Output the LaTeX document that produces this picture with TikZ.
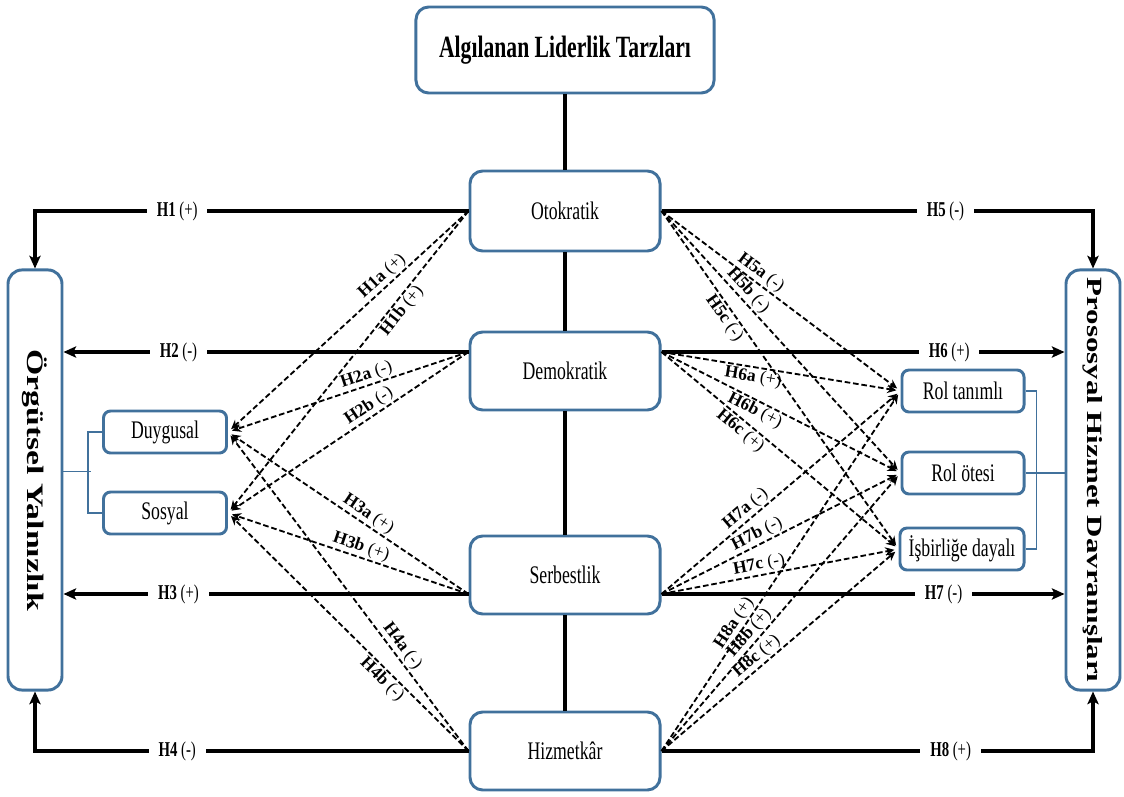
\documentclass[tikz,border=0pt]{standalone}
\usepackage{fontspec}
\setmainfont{Liberation Serif}
\usepackage{tikz}
\usetikzlibrary{arrows.meta}

\definecolor{boxblue}{HTML}{41719C}
\newcommand{\nar}[1]{\scalebox{0.7}[1]{#1}}
\newcommand{\vnar}[1]{\rotatebox{-90}{\scalebox{1}[0.7]{#1}}}

\tikzset{
  mainbox/.style={draw=boxblue, line width=2.1pt, rounded corners=9pt, fill=white,
    inner sep=0pt, minimum width=4.75cm, minimum height=1.95cm,
    font=\fontsize{18}{20}\selectfont},
  subbox/.style={draw=boxblue, line width=2.1pt, rounded corners=5pt, fill=white,
    inner sep=0pt, minimum height=1.05cm, font=\fontsize{18}{19}\selectfont},
  sidebox/.style={draw=boxblue, line width=2.1pt, rounded corners=10pt, fill=white,
    inner sep=0pt, minimum width=1.35cm, minimum height=10.5cm,
    font=\fontsize{22}{24}\selectfont\bfseries},
  link/.style={line width=2.3pt},
  hyp/.style={line width=2.3pt, -{Stealth[length=9pt,width=8pt,inset=2pt]}},
  subhyp/.style={line width=1.3pt, dash pattern=on 4pt off 2pt, shorten >=3pt,
    -{Stealth[length=6.5pt,width=6pt]}},
  hlab/.style={fill=white, inner xsep=7pt, inner ysep=1pt, font=\fontsize{15}{16}\selectfont},
  slab/.style={sloped, inner sep=1pt, font=\fontsize{12.5}{13}\selectfont},
  bracket/.style={draw=boxblue, line width=1.2pt}
}

\begin{document}
\begin{tikzpicture}[x=0.025cm, y=-0.025cm]
        \useasboundingbox (0,0) rectangle (1124,796);

        %Leadership styles
        \node [mainbox, minimum width=7.45cm, minimum height=2.15cm,
               font=\fontsize{22}{24}\selectfont\bfseries] (title) at (565,50)
              {\nar{Algılanan Liderlik Tarzları}};
        \node [mainbox, minimum height=2cm] (oto) at (565,211) {\nar{Otokratik}};
        \node [mainbox] (demo) at (565,371) {\nar{Demokratik}};
        \node [mainbox] (serb) at (565,575) {\nar{Serbestlik}};
        \node [mainbox] (hizm) at (565,751) {\nar{Hizmetkâr}};

        %Outcomes
        \node [sidebox, font=\fontsize{24}{26}\selectfont\bfseries] (yal) at (35,480)
              {\vnar{Örgütsel Yalnızlık}};
        \node [sidebox] (pros) at (1093,480) {\vnar{Prososyal Hizmet Davranışları}};

        %Dimensions
        \node [subbox, minimum width=3.075cm] (duy)  at (165,432) {\nar{Duygusal}};
        \node [subbox, minimum width=3.075cm] (sos)  at (165,513) {\nar{Sosyal}};
        \node [subbox, minimum width=3.05cm]  (rol1) at (963,391) {\nar{Rol tanımlı}};
        \node [subbox, minimum width=3.05cm]  (rol2) at (963,473) {\nar{Rol ötesi}};
        \node [subbox, minimum width=3.1cm]   (rol3) at (962,549) {\nar{İşbirliğe dayalı}};

        %Attach points
        \coordinate (otoW)  at (oto.west);
        \coordinate (otoE)  at (oto.east);
        \coordinate (demoW) at ([yshift=13.5pt]demo.west);
        \coordinate (demoE) at ([yshift=13.5pt]demo.east);
        \coordinate (serbW) at ([yshift=-13.5pt]serb.west);
        \coordinate (serbE) at ([yshift=-13.5pt]serb.east);
        \coordinate (hizmW) at (hizm.west);
        \coordinate (hizmE) at (hizm.east);

        %Spine
        \draw [link] (title) -- (oto);
        \draw [link] (oto)   -- (demo);
        \draw [link] (demo)  -- (serb);
        \draw [link] (serb)  -- (hizm);

        %Brackets
        \draw [bracket] (duy.west) -- ++(-14,0) |- (sos.west);
        \draw [bracket] ([yshift=6pt]yal.east) -- ++(28,0);
        \draw [bracket] (rol1.east) -- ++(11,0) |- (rol3.east);
        \draw [bracket] (rol2.east) -- (rol2.east -| pros.west);

        %Main hypotheses, left
        \draw [hyp] (otoW) -| node [hlab, pos=0.336] {\nar{\textbf{H1} (+)}} (yal.north);
        \draw [hyp] (demoW) -- node [hlab, pos=0.716] {\nar{\textbf{H2} (-)}} (demoW -| yal.east);
        \draw [hyp] (serbW) -- node [hlab, pos=0.716] {\nar{\textbf{H3} (+)}} (serbW -| yal.east);
        \draw [hyp] (hizmW) -| node [hlab, pos=0.336] {\nar{\textbf{H4} (-)}} (yal.south);
        %Main hypotheses, right
        \draw [hyp] (otoE) -| node [hlab, pos=0.329] {\nar{\textbf{H5} (-)}} (pros.north);
        \draw [hyp] (demoE) -- node [hlab, pos=0.714] {\nar{\textbf{H6} (+)}} (demoE -| pros.west);
        \draw [hyp] (serbE) -- node [hlab, pos=0.70]  {\nar{\textbf{H7} (-)}} (serbE -| pros.west);
        \draw [hyp] (hizmE) -| node [hlab, pos=0.335] {\nar{\textbf{H8} (+)}} (pros.south);

        %Sub hypotheses, left
        \draw [subhyp] (otoW)  -- node [slab, pos=0.33, above] {\textbf{H1a} (+)} (duy.east);
        \draw [subhyp] (otoW)  -- node [slab, pos=0.31, below] {\textbf{H1b} (+)} (sos.east);
        \draw [subhyp] (demoW) -- node [slab, pos=0.41, above] {\textbf{H2a} (-)} (duy.east);
        \draw [subhyp] (demoW) -- node [slab, pos=0.39, above] {\textbf{H2b} (-)} (sos.east);
        \draw [subhyp] (serbW) -- node [slab, pos=0.44, above] {\textbf{H3a} (+)} (duy.east);
        \draw [subhyp] (serbW) -- node [slab, pos=0.46, above] {\textbf{H3b} (+)} (sos.east);
        \draw [subhyp] (hizmW) -- node [slab, pos=0.31, above] {\textbf{H4a} (-)} (duy.east);
        \draw [subhyp] (hizmW) -- node [slab, pos=0.33, below] {\textbf{H4b} (-)} (sos.east);
        %Sub hypotheses, right
        \draw [subhyp] (otoE)  -- node [slab, pos=0.39, above] {\textbf{H5a} (-)} (rol1.west);
        \draw [subhyp] (otoE)  -- node [slab, pos=0.33, above] {\textbf{H5b} (-)} (rol2.west);
        \draw [subhyp] (otoE)  -- node [slab, pos=0.30, below] {\textbf{H5c} (-)} (rol3.west);
        \draw [subhyp] (demoE) -- node [slab, pos=0.39, below] {\textbf{H6a} (+)} (rol1.west);
        \draw [subhyp] (demoE) -- node [slab, pos=0.41, below] {\textbf{H6b} (+)} (rol2.west);
        \draw [subhyp] (demoE) -- node [slab, pos=0.36, below] {\textbf{H6c} (+)} (rol3.west);
        \draw [subhyp] (serbE) -- node [slab, pos=0.38, above] {\textbf{H7a} (-)} (rol1.west);
        \draw [subhyp] (serbE) -- node [slab, pos=0.42, above] {\textbf{H7b} (-)} (rol2.west);
        \draw [subhyp] (serbE) -- node [slab, pos=0.42, above] {\textbf{H7c} (-)} (rol3.west);
        \draw [subhyp] (hizmE) -- node [slab, pos=0.34, above] {\textbf{H8a} (+)} (rol1.west);
        \draw [subhyp] (hizmE) -- node [slab, pos=0.40, above] {\textbf{H8b} (+)} (rol2.west);
        \draw [subhyp] (hizmE) -- node [slab, pos=0.43, above] {\textbf{H8c} (+)} (rol3.west);
\end{tikzpicture}
\end{document}
